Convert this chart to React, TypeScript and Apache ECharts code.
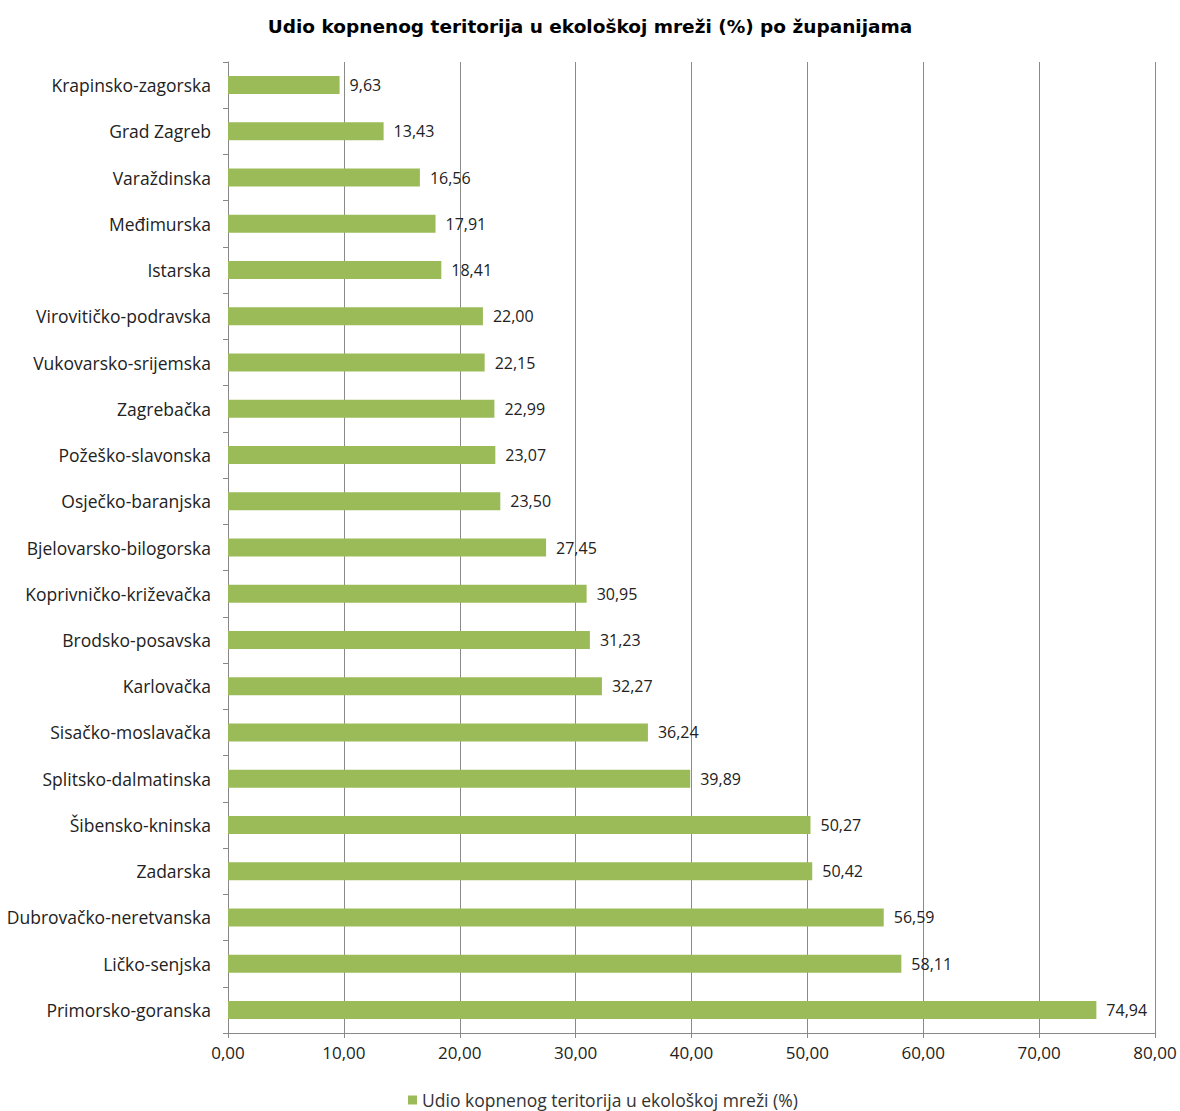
import React, { useEffect, useRef } from "react";
import * as echarts from "echarts";

const categories = [
  "Krapinsko-zagorska",
  "Grad Zagreb",
  "Varaždinska",
  "Međimurska",
  "Istarska",
  "Virovitičko-podravska",
  "Vukovarsko-srijemska",
  "Zagrebačka",
  "Požeško-slavonska",
  "Osječko-baranjska",
  "Bjelovarsko-bilogorska",
  "Koprivničko-križevačka",
  "Brodsko-posavska",
  "Karlovačka",
  "Sisačko-moslavačka",
  "Splitsko-dalmatinska",
  "Šibensko-kninska",
  "Zadarska",
  "Dubrovačko-neretvanska",
  "Ličko-senjska",
  "Primorsko-goranska",
];

const values = [
  9.63, 13.43, 16.56, 17.91, 18.41, 22.0, 22.15, 22.99, 23.07, 23.5, 27.45,
  30.95, 31.23, 32.27, 36.24, 39.89, 50.27, 50.42, 56.59, 58.11, 74.94,
];

const seriesName = "Udio kopnenog teritorija u ekološkoj mreži (%)";
const title = "Udio kopnenog teritorija u ekološkoj mreži (%) po županijama";

const fmt = (v: number) => v.toFixed(2).replace(".", ",");

export default function App() {
  const ref = useRef<HTMLDivElement>(null);
  useEffect(() => {
    if (!ref.current) return;
    const chart = echarts.init(ref.current, null, { renderer: "svg" });
    const font = "'Open Sans', sans-serif";
    chart.setOption({
      animation: false,
      backgroundColor: "#ffffff",
      title: {
        text: title,
        left: "center",
        top: 12,
        textStyle: {
          fontFamily: "'DejaVu Sans', sans-serif",
          fontSize: 18.5,
          fontWeight: "bold",
          color: "#000",
        },
      },
      legend: {
        top: 1086,
        left: 403,
        itemWidth: 9,
        itemHeight: 9,
        itemGap: 4,
        icon: "rect",
        textStyle: { fontFamily: font, fontSize: 17.5, color: "#333" },
        data: [seriesName],
      },
      grid: { left: 228, right: 25, top: 62, bottom: 78, containLabel: false },
      xAxis: {
        type: "value",
        min: 0,
        max: 80,
        interval: 10,
        axisLine: { show: true, lineStyle: { color: "#888" } },
        axisTick: { show: true, length: 5, lineStyle: { color: "#888" } },
        splitLine: { show: true, lineStyle: { color: "#8a8a8a", width: 1 } },
        axisLabel: {
          formatter: (v: number) => fmt(v),
          fontFamily: font,
          fontSize: 17,
          color: "#222",
          margin: 11,
        },
      },
      yAxis: {
        type: "category",
        inverse: true,
        data: categories,
        axisLine: { show: true, lineStyle: { color: "#888" } },
        axisTick: { show: true, length: 5, lineStyle: { color: "#888" } },
        axisLabel: {
          fontFamily: font,
          fontSize: 17.5,
          color: "#222",
          margin: 17,
        },
      },
      series: [
        {
          name: seriesName,
          type: "bar",
          data: values,
          barWidth: 18,
          itemStyle: { color: "#9bbb59" },
          label: {
            show: true,
            position: "right",
            distance: 10,
            formatter: (p: any) => fmt(p.value),
            fontFamily: font,
            fontSize: 16,
            color: "#222",
          },
        },
      ],
    });
    return () => chart.dispose();
  }, []);
  return (
    <div
      ref={ref}
      style={{ position: "fixed", left: 0, top: 0, width: 1180, height: 1111 }}
    />
  );
}
